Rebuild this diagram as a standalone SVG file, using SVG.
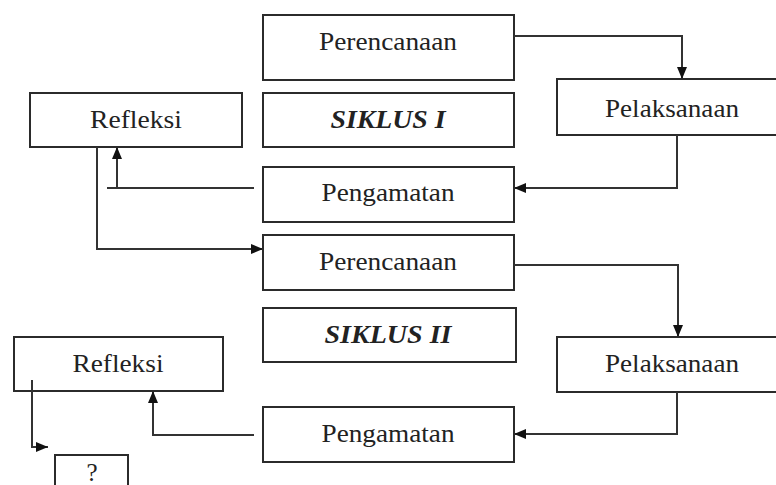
<svg xmlns="http://www.w3.org/2000/svg" width="776" height="485" viewBox="0 0 776 485">
<style>
.box{fill:#fff;stroke:#2b2b2b;stroke-width:2}
.t{font-family:"Liberation Serif","Times New Roman",Times,serif;font-size:25px;fill:#222;text-anchor:middle}
.b{font-weight:bold;font-style:italic}
.c{fill:none;stroke:#333;stroke-width:2}
</style>
<defs>
<marker id="ah" markerUnits="userSpaceOnUse" markerWidth="12" markerHeight="10" refX="12" refY="5" orient="auto">
<path d="M0,0 L12,5 L0,10 Z" fill="#111"/>
</marker>
</defs>
<rect width="776" height="485" fill="#fff"/>
<g id="perencanaan1"><rect class="box" x="263" y="15" width="251" height="65"/><text class="t" x="388" y="50" textLength="138" lengthAdjust="spacingAndGlyphs">Perencanaan</text></g>
<g id="siklus1"><rect class="box" x="263" y="93" width="251" height="54"/><text class="t b" x="388" y="128" textLength="115" lengthAdjust="spacingAndGlyphs">SIKLUS I</text></g>
<g id="pengamatan1"><rect class="box" x="263" y="167" width="251" height="55"/><text class="t" x="388" y="201" textLength="133" lengthAdjust="spacingAndGlyphs">Pengamatan</text></g>
<g id="refleksi1"><rect class="box" x="30" y="93" width="212" height="54"/><text class="t" x="136" y="128" textLength="92" lengthAdjust="spacingAndGlyphs">Refleksi</text></g>
<g id="pelaksanaan1"><rect class="box" x="557" y="79" width="230" height="56"/><text class="t" x="672" y="117" textLength="134" lengthAdjust="spacingAndGlyphs">Pelaksanaan</text></g>
<g id="perencanaan2"><rect class="box" x="263" y="235" width="251" height="55"/><text class="t" x="388" y="270" textLength="138" lengthAdjust="spacingAndGlyphs">Perencanaan</text></g>
<g id="siklus2"><rect class="box" x="263" y="308" width="253" height="54"/><text class="t b" x="388" y="343" textLength="127" lengthAdjust="spacingAndGlyphs">SIKLUS II</text></g>
<g id="pengamatan2"><rect class="box" x="263" y="407" width="251" height="55"/><text class="t" x="388" y="442" textLength="133" lengthAdjust="spacingAndGlyphs">Pengamatan</text></g>
<g id="pelaksanaan2"><rect class="box" x="557" y="337" width="230" height="55"/><text class="t" x="672" y="372" textLength="134" lengthAdjust="spacingAndGlyphs">Pelaksanaan</text></g>
<g id="refleksi2"><rect class="box" x="14" y="337" width="209" height="54"/><text class="t" x="118" y="372" textLength="91" lengthAdjust="spacingAndGlyphs">Refleksi</text></g>
<g id="tanya"><rect class="box" x="55" y="455" width="73" height="40"/><text class="t" x="92" y="481">?</text></g>
<g id="connectors">
<path class="c" d="M514,36 H682 V79" marker-end="url(#ah)"/>
<path class="c" d="M677,135 V188 H514" marker-end="url(#ah)"/>
<path class="c" d="M254,188 H107"/>
<path class="c" d="M117,188 V147" marker-end="url(#ah)"/>
<path class="c" d="M97,147 V249 H263" marker-end="url(#ah)"/>
<path class="c" d="M514,265 H678 V337" marker-end="url(#ah)"/>
<path class="c" d="M677,392 V434 H514" marker-end="url(#ah)"/>
<path class="c" d="M254,435 H153 V391" marker-end="url(#ah)"/>
<path class="c" d="M32,380 V447 H48" marker-end="url(#ah)"/>
</g>
</svg>
